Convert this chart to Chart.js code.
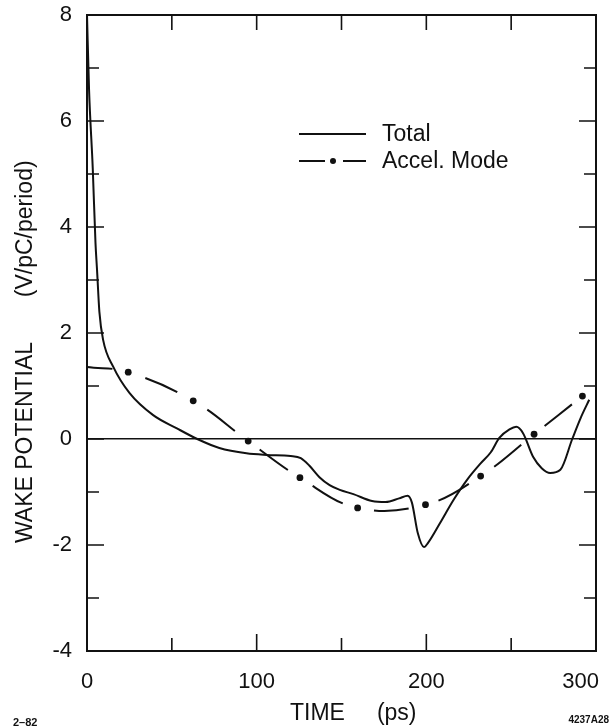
<!DOCTYPE html>
<html>
<head>
<meta charset="utf-8">
<script src="https://cdn.jsdelivr.net/npm/chart.js@4"></script>
<style>
  html, body { margin: 0; padding: 0; background: #fff; }
  #wrap { position: relative; width: 613px; height: 727px; }
</style>
</head>
<body>
<div id="wrap"><canvas id="wake"></canvas></div>
<script>
// ---- data ----
const timeTotal = [0, 1.2, 3.4, 5, 5.9, 7.3, 9.5, 15.5, 25, 39, 53, 65, 78, 94, 106, 120, 126, 131, 137, 143, 149, 157,
  168, 176, 184, 189, 191.5, 195, 198.6, 201, 208, 216, 224, 232, 238, 243, 249, 253, 257, 263, 268, 273, 279, 286, 291, 296];
const wakeTotal = [8.0, 6.6, 5.1, 3.7, 3.2, 2.4, 1.87, 1.36, 0.87, 0.45, 0.2, 0, -0.17, -0.27, -0.3, -0.32, -0.36, -0.5, -0.72, -0.87, -0.96, -1.04,
  -1.17, -1.19, -1.12, -1.07, -1.2, -1.78, -2.04, -1.96, -1.59, -1.15, -0.77, -0.46, -0.25, 0.02, 0.18, 0.23, 0.11, -0.34, -0.55, -0.64, -0.58, 0, 0.4, 0.74];

// accelerating mode: starting point, then the marked points
const timeAccel = [0, 24.3, 62.6, 95, 125.5, 159.5, 199.5, 232, 263.5, 292];
const wakeAccel = [1.36, 1.26, 0.72, -0.04, -0.73, -1.3, -1.24, -0.7, 0.09, 0.81];

const xTicks = [0, 100, 200, 300];
const yTicks = [-4, -2, 0, 2, 4, 6, 8];

const seriesNames = ['Total', 'Accel. Mode'];
const xTitle = 'TIME     (ps)';
const yTitle = 'WAKE POTENTIAL       (V/pC/period)';

const INK = '#111';
const FONT = '"Liberation Sans", Arial, sans-serif';

// ---- helpers ----
const toPoints = (xs, ys) => xs.map((x, i) => ({ x, y: ys[i] }));

// dash-dot look: each interval between marked points gets one centred dash
const DASH = 35;
function accelDash(ctx) {
  if (ctx.p0DataIndex === 0) return [DASH, 200];
  return [DASH, 200 + (ctx.p0DataIndex % 2)];
}
function accelOffset(ctx) {
  const dx = ctx.p1.x - ctx.p0.x, dy = ctx.p1.y - ctx.p0.y;
  const len = Math.sqrt(dx * dx + dy * dy);
  if (ctx.p0DataIndex === 0) return DASH - (len - 16);
  const gap = Math.max(4, (len - DASH) / 2);
  return DASH + 200 + (ctx.p0DataIndex % 2) - gap;
}

// frame, inward tick marks, titles, legend and footnotes
const decorPlugin = {
  id: 'decor',
  afterDraw(chart) {
    const { ctx, chartArea: a, scales } = chart;
    const xs = scales.x, ys = scales.y;
    ctx.save();
    ctx.strokeStyle = INK;
    ctx.lineWidth = 2;
    ctx.strokeRect(a.left, a.top, a.right - a.left, a.bottom - a.top);

    ctx.lineWidth = 1.6;
    ctx.beginPath();
    for (let v = -3; v <= 7; v += 1) {
      const py = ys.getPixelForValue(v);
      const len = yTicks.includes(v) ? 17 : 12;
      ctx.moveTo(a.left, py); ctx.lineTo(a.left + len, py);
      ctx.moveTo(a.right, py); ctx.lineTo(a.right - len, py);
    }
    for (let v = 50; v < 300; v += 50) {
      const px = xs.getPixelForValue(v);
      const len = xTicks.includes(v) ? 17 : 13;
      ctx.moveTo(px, a.bottom); ctx.lineTo(px, a.bottom - len);
      ctx.moveTo(px, a.top); ctx.lineTo(px, a.top + 15);
    }
    ctx.stroke();

    ctx.fillStyle = INK;
    // axis titles
    ctx.font = '23px ' + FONT;
    ctx.textBaseline = 'alphabetic';
    ctx.textAlign = 'left';
    ctx.fillText(xTitle, 290, 720);
    ctx.save();
    ctx.translate(32, 543);
    ctx.rotate(-Math.PI / 2);
    ctx.fillText(yTitle, 0, 0);
    ctx.restore();

    // legend
    const lx0 = 299, lx1 = 366, ty = 134, ay = 161;
    ctx.lineWidth = 2;
    ctx.beginPath();
    ctx.moveTo(lx0, ty); ctx.lineTo(lx1, ty);
    ctx.moveTo(lx0, ay); ctx.lineTo(325, ay);
    ctx.moveTo(343, ay); ctx.lineTo(lx1, ay);
    ctx.stroke();
    ctx.beginPath();
    ctx.arc(333, ay, 3, 0, Math.PI * 2);
    ctx.fill();
    ctx.font = '23px ' + FONT;
    ctx.textBaseline = 'middle';
    ctx.fillText(seriesNames[0], 382, ty + 1);
    ctx.fillText(seriesNames[1], 382, ay + 1);

    // drawing reference marks
    ctx.font = 'bold 11px ' + FONT;
    ctx.textBaseline = 'alphabetic';
    ctx.fillText('2\u201382', 13, 726);
    ctx.textAlign = 'right';
    ctx.font = 'bold 10px ' + FONT;
    ctx.fillText('4237A28', 609, 723);
    ctx.restore();
  }
};

new Chart(document.getElementById('wake'), {
  type: 'line',
  data: {
    datasets: [
      {
        label: seriesNames[0],
        data: toPoints(timeTotal, wakeTotal),
        borderColor: INK,
        borderWidth: 2,
        pointRadius: 0,
        cubicInterpolationMode: 'monotone'
      },
      {
        label: seriesNames[1],
        data: toPoints(timeAccel, wakeAccel),
        borderColor: INK,
        backgroundColor: INK,
        borderWidth: 2,
        tension: 0.4,
        pointRadius: c => (c.dataIndex === 0 ? 0 : 3.4),
        pointBorderWidth: 0,
        segment: { borderDash: accelDash, borderDashOffset: accelOffset }
      }
    ]
  },
  options: {
    responsive: true,
    maintainAspectRatio: false,
    animation: false,
    layout: { padding: { top: 15, right: 17, left: 0, bottom: 0 } },
    plugins: { legend: { display: false }, tooltip: { enabled: false } },
    scales: {
      x: {
        type: 'linear',
        min: 0, max: 300,
        afterBuildTicks: s => { s.ticks = xTicks.map(v => ({ value: v })); },
        afterFit: s => { s.height = 76; s.paddingLeft = 0; s.paddingRight = 0; },
        grid: { display: false, drawTicks: false },
        border: { display: false },
        ticks: {
          color: INK, font: { family: FONT, size: 22 }, padding: 18, maxRotation: 0,
          // last label sits inside the right edge
          callback: v => (v === 300 ? v + '     ' : String(v))
        }
      },
      y: {
        min: -4, max: 8,
        afterBuildTicks: s => { s.ticks = yTicks.map(v => ({ value: v })); },
        afterFit: s => { s.width = 87; s.paddingTop = 0; s.paddingBottom = 0; },
        grid: {
          drawTicks: false,
          color: c => (c.tick && c.tick.value === 0 ? INK : 'transparent'),
          lineWidth: 1.6
        },
        border: { display: false },
        ticks: { color: INK, font: { family: FONT, size: 22 }, padding: 15 }
      }
    }
  },
  plugins: [decorPlugin]
});
</script>
</body>
</html>
